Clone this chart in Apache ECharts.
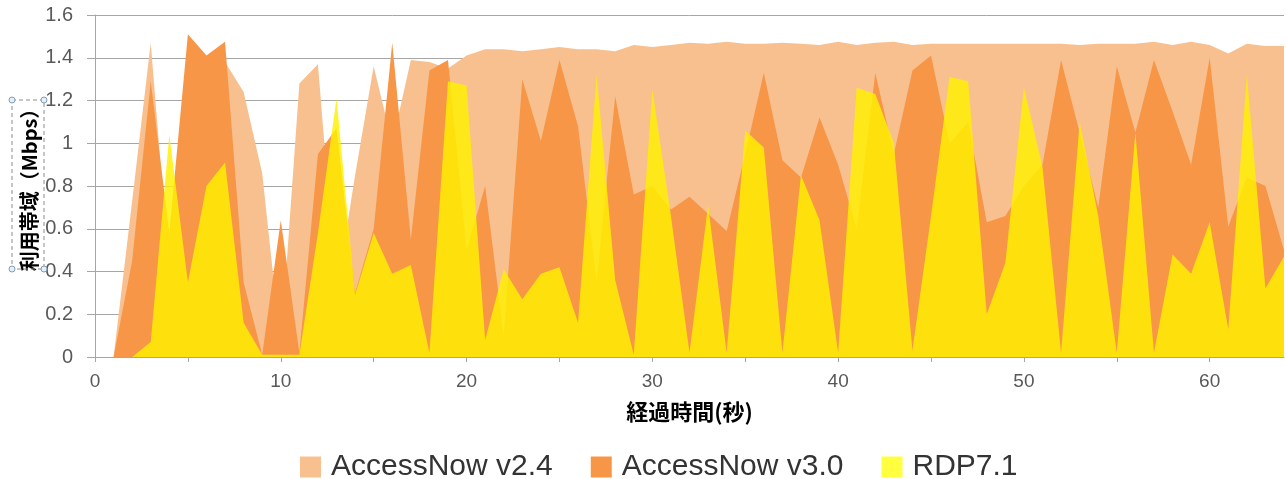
<!DOCTYPE html>
<html>
<head>
<meta charset="utf-8">
<script src="https://cdn.jsdelivr.net/npm/echarts@6/dist/echarts.min.js"></script>
<style>
html,body{margin:0;padding:0;background:#fff;}
#c{width:1287px;height:479px;}
</style>
</head>
<body>
<div id="c"></div>
<script>
const seconds = [1,2,3,4,5,6,7,8,9,10,11,12,13,14,15,16,17,18,19,20,21,22,23,24,25,26,27,28,29,30,31,32,33,34,35,36,37,38,39,40,41,42,43,44,45,46,47,48,49,50,51,52,53,54,55,56,57,58,59,60,61,62,63,64];
const accessNow24 = [0,0.73,1.47,0.40,1.30,1.30,1.38,1.24,0.86,0.05,1.28,1.37,0.30,0.85,1.36,1.00,1.39,1.38,1.35,1.41,1.44,1.44,1.43,1.44,1.45,1.44,1.44,1.43,1.46,1.45,1.46,1.47,1.465,1.475,1.465,1.465,1.47,1.465,1.46,1.475,1.46,1.47,1.475,1.46,1.465,1.465,1.465,1.465,1.465,1.465,1.465,1.465,1.46,1.465,1.465,1.465,1.475,1.46,1.475,1.46,1.42,1.465,1.455,1.455];
const accessNow30 = [0,0.45,1.29,0.58,1.51,1.41,1.475,0.35,0.01,0.64,0.02,0.95,1.07,0.30,0.60,1.47,0.55,1.34,1.39,0.50,0.80,0.10,1.30,1.01,1.39,1.08,0.35,1.22,0.76,0.80,0.69,0.75,0.67,0.59,0.95,1.33,0.92,0.84,1.12,0.90,0.60,1.33,0.95,1.34,1.41,1.00,1.10,0.63,0.66,0.80,0.90,1.39,1.05,0.70,1.36,1.05,1.39,1.15,0.90,1.40,0.61,0.84,0.80,0.50];
const rdp71 = [0,0,0.07,1.04,0.35,0.80,0.91,0.16,0.01,0.01,0.01,0.58,1.21,0.29,0.58,0.39,0.43,0.02,1.29,1.27,0.08,0.41,0.27,0.39,0.42,0.16,1.32,0.36,0.01,1.25,0.66,0.02,0.71,0.02,1.06,0.98,0.02,0.85,0.64,0.02,1.26,1.23,1.00,0.03,0.66,1.31,1.29,0.20,0.44,1.26,0.89,0.02,1.10,0.66,0.02,1.05,0.02,0.48,0.39,0.63,0.13,1.32,0.32,0.47];
const seriesNames = ['AccessNow v2.4','AccessNow v3.0','RDP7.1'];
const xTickLabels = [0,10,20,30,40,50,60];
const yTitle = '利用帯域（Mbps）';
const xTitle = '経過時間(秒)';

const pair = arr => seconds.map((s, i) => [s, arr[i]]);

const chart = echarts.init(document.getElementById('c'), null, {renderer:'canvas'});
const labelColor = '#595959';
const gridColor = '#A6A6A6';
chart.setOption({
  animation: false,
  grid: {left: 95, right: 3, top: 15, bottom: 122},
  legend: {
    bottom: -8, left: 295,
    icon: 'rect', itemWidth: 21, itemHeight: 21, itemGap: 38,
    textStyle: {fontFamily: 'Liberation Sans', fontSize: 30, color: '#333', padding: [0, 0, 0, 5]},
    data: seriesNames
  },
  xAxis: {
    type: 'value', min: 0, max: 64, interval: 5,
    name: xTitle, nameLocation: 'middle', nameGap: 44,
    nameTextStyle: {fontFamily: 'Noto Sans CJK JP', fontWeight: 'bold', fontSize: 22, color: '#000'},
    axisLine: {show: true, lineStyle: {color: gridColor}},
    axisTick: {show: true, length: 5, lineStyle: {color: gridColor}},
    splitLine: {show: false},
    axisLabel: {
      fontFamily: 'Liberation Sans', fontSize: 19, color: labelColor, margin: 15,
      showMaxLabel: false,
      formatter: v => xTickLabels.indexOf(v) >= 0 ? String(v) : ''
    }
  },
  yAxis: {
    type: 'value', min: 0, max: 1.6, interval: 0.2,
    axisLine: {show: true, lineStyle: {color: gridColor}},
    axisTick: {show: true, length: 8, inside: false, lineStyle: {color: gridColor}},
    splitLine: {show: true, lineStyle: {color: gridColor, width: 1}},
    axisLabel: {fontFamily: 'Liberation Sans', fontSize: 20, color: labelColor, margin: 22,
      formatter: v => String(Math.round(v * 10) / 10)}
  },
  series: [
    {name: seriesNames[0], type: 'line', data: pair(accessNow24), showSymbol: false, symbol: 'none',
     color: '#F9C08F', lineStyle: {width: 0}, areaStyle: {color: '#F9C08F', opacity: 1}, z: 1},
    {name: seriesNames[1], type: 'line', data: pair(accessNow30), showSymbol: false, symbol: 'none',
     color: '#F79646', lineStyle: {width: 0}, areaStyle: {color: '#F79646', opacity: 1}, z: 2},
    {name: seriesNames[2], type: 'line', data: pair(rdp71), showSymbol: false, symbol: 'none',
     color: '#FFFF40', lineStyle: {width: 0}, areaStyle: {color: '#FFF000', opacity: 0.82}, z: 3}
  ],
  graphic: [
    {type: 'text', x: 29, y: 185, rotation: Math.PI / 2, z: 99,
     style: {text: yTitle, font: 'bold 20px "Noto Sans CJK JP"', fill: '#000', align: 'center', verticalAlign: 'middle'}},
    {type: 'rect', shape: {x: 12, y: 100, width: 32, height: 169}, z: 100,
     style: {fill: 'none', stroke: '#8C8C8C', lineWidth: 1, lineDash: [4, 3]}},
    {type: 'circle', shape: {cx: 12, cy: 100, r: 3}, z: 101, style: {fill: '#E6EEF6', stroke: '#7F9DB9', lineWidth: 1}},
    {type: 'circle', shape: {cx: 44, cy: 100, r: 3}, z: 101, style: {fill: '#E6EEF6', stroke: '#7F9DB9', lineWidth: 1}},
    {type: 'circle', shape: {cx: 12, cy: 269, r: 3}, z: 101, style: {fill: '#E6EEF6', stroke: '#7F9DB9', lineWidth: 1}},
    {type: 'circle', shape: {cx: 44, cy: 269, r: 3}, z: 101, style: {fill: '#E6EEF6', stroke: '#7F9DB9', lineWidth: 1}}
  ]
});
</script>
</body>
</html>
